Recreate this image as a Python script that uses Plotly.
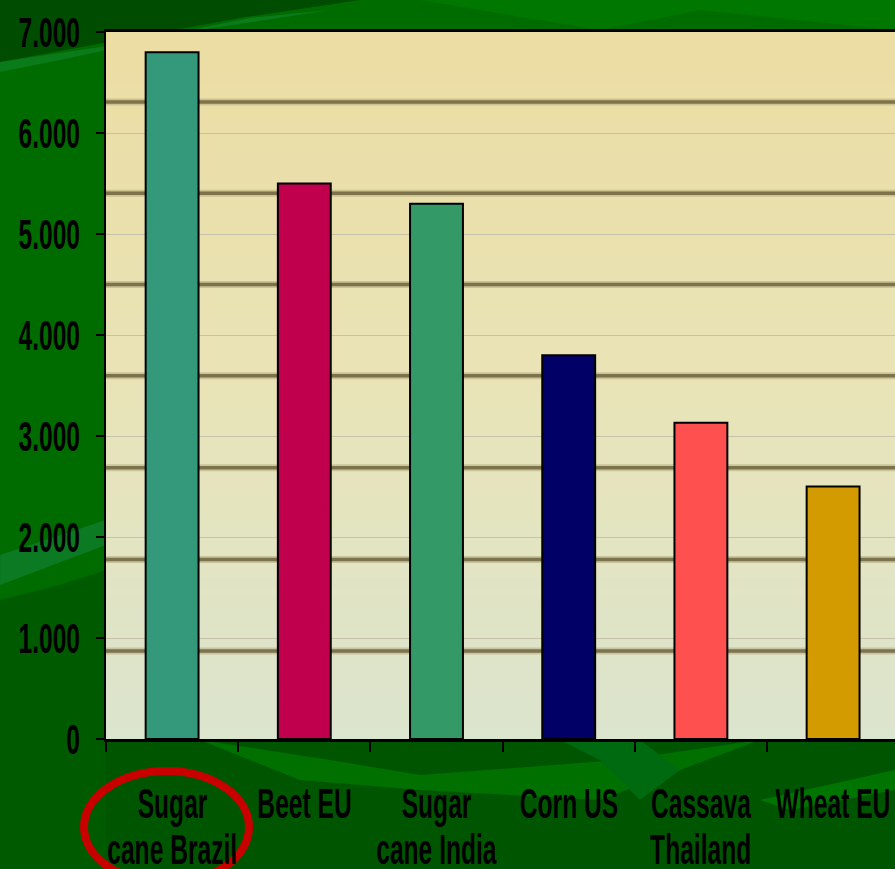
import plotly.graph_objects as go

# ---- data -------------------------------------------------------------
categories = ["Sugar cane Brazil", "Beet EU", "Sugar cane India",
              "Corn US", "Cassava Thailand", "Wheat EU"]
label_lines = [["Sugar", "cane Brazil"], ["Beet EU"], ["Sugar", "cane India"],
               ["Corn US"], ["Cassava", "Thailand"], ["Wheat EU"]]
yield_values = [6800, 5500, 5300, 3800, 3130, 2500]
bar_colors = ["#33997A", "#C0004C", "#339966", "#000066", "#FF5050", "#D49B00"]
y_tick_values = [0, 1000, 2000, 3000, 4000, 5000, 6000, 7000]

# ---- layout geometry --------------------------------------------------
W, H = 895, 869
ML, MR, MT, MB = 106, 0, 32, 130
PW, PH = W - ML - MR, H - MT - MB
CAT_PX = 132.2                      # pixel width of one category slot
x_span = PW / CAT_PX

FONT = "Liberation Sans, Arial, sans-serif"
FONT_SIZE = 30
# tall, narrow lettering: horizontal / vertical scale applied to every label
TEXT_SX, TEXT_SY = 0.82, 1.4


def px(x):
    return (x - ML) / PW


def py(y):
    return (H - MB - y) / PH


def path(points):
    return "M " + " L ".join(f"{px(a):.4f},{py(b):.4f}" for a, b in points) + " Z"


shapes = []

# green slide background swooshes
bg_patches = [
    ("#004c00", [(0, 0), (360, 0), (240, 18), (120, 40), (0, 62)]),
    ("#0a7a1a", [(0, 62), (120, 44), (250, 18), (330, 10), (200, 30), (60, 60), (0, 72)]),
    ("#007800", [(420, 0), (895, 0), (895, 30), (700, 10), (600, 30)]),
    ("#005a00", [(0, 600), (60, 585), (106, 570), (106, 869), (0, 869)]),
    ("#0b7a22", [(0, 555), (106, 520), (106, 545), (0, 585)]),
    ("#005600", [(106, 740), (895, 740), (895, 869), (106, 869)]),
    ("#007000", [(200, 740), (330, 760), (420, 775), (620, 760), (760, 740), (600, 800), (420, 790), (300, 780)]),
    ("#006a10", [(560, 740), (600, 760), (640, 800), (680, 770), (640, 740)]),
    ("#007400", [(760, 800), (895, 770), (895, 790), (790, 810)]),
]
for color, pts in bg_patches:
    shapes.append(dict(type="path", xref="paper", yref="paper", path=path(pts),
                       fillcolor=color, line=dict(width=0), layer="below"))

# beige plot-area gradient (top yellowish, bottom pale green)
top_rgb = (236, 221, 163)
mid_rgb = (233, 228, 184)
bot_rgb = (220, 229, 206)
n_bands = 70
for i in range(n_bands):
    t = i / (n_bands - 1)
    if t < 0.5:
        a, b, u = top_rgb, mid_rgb, t / 0.5
    else:
        a, b, u = mid_rgb, bot_rgb, (t - 0.5) / 0.5
    c = tuple(int(a[k] + (b[k] - a[k]) * u) for k in range(3))
    y_top = 1 - i / n_bands
    y_bot = 1 - (i + 1) / n_bands - 0.002
    shapes.append(dict(type="rect", xref="paper", yref="paper",
                       x0=0, x1=1, y0=max(y_bot, 0), y1=y_top,
                       fillcolor=f"rgb{c}", line=dict(width=0), layer="below"))

# dark horizontal stripes of the background texture
for yy in [102, 193.3, 284.5, 375.7, 467.7, 559.5, 651]:
    for w_, col in [(7, "rgba(150,140,95,0.35)"), (3.5, "rgba(110,100,62,0.85)")]:
        shapes.append(dict(type="line", xref="paper", yref="paper",
                           x0=0, x1=1, y0=py(yy), y1=py(yy),
                           line=dict(color=col, width=w_), layer="below"))

# red ellipse highlighting the first category
shapes.append(dict(type="circle", xref="paper", yref="paper",
                   x0=px(84), x1=px(249), y0=py(883), y1=py(771),
                   line=dict(color="#C80000", width=8), layer="above"))

# ---- figure -----------------------------------------------------------
fig = go.Figure(go.Bar(
    x=categories, y=yield_values,
    marker=dict(color=bar_colors, line=dict(color="black", width=2)),
    width=0.4, hoverinfo="x+y",
))

label_font = dict(family=FONT, size=FONT_SIZE, color="black", weight="bold")

annotations = []
for cat, lines in zip(categories, label_lines):
    for k, line in enumerate(lines):
        annotations.append(dict(
            x=cat, xref="x", y=0, yref="paper", yanchor="middle",
            yshift=-(64 + 46 * k), text=line, showarrow=False,
            font=label_font,
        ))

fig.update_layout(
    width=W, height=H,
    margin=dict(l=ML, r=MR, t=MT, b=MB, pad=0, autoexpand=False),
    paper_bgcolor="#006c00",
    plot_bgcolor="rgba(0,0,0,0)",
    separators=",.",
    showlegend=False,
    bargap=0.6,
    shapes=shapes,
    annotations=annotations,
    font=dict(family=FONT, color="black"),
)
fig.update_xaxes(
    type="category", range=[-0.5, -0.5 + x_span], automargin=False,
    showticklabels=False, showgrid=False,
    showline=True, linecolor="black", linewidth=3, mirror=True,
    ticks="outside", tickson="boundaries", ticklen=10, tickwidth=1.5,
    tickcolor="black", zeroline=False,
)
fig.update_yaxes(
    range=[0, 7000], tickvals=y_tick_values, tickformat=",d", automargin=False,
    showline=True, linecolor="black", linewidth=2,
    ticks="outside", ticklen=8, tickwidth=1.5, tickcolor="black",
    ticklabelstandoff=10,
    tickfont=label_font,
    showgrid=True, gridcolor="rgba(190,185,165,0.8)", gridwidth=1,
    zeroline=False,
)

# narrow the lettering horizontally and stretch it vertically, keeping each
# label anchored where plotly placed it
stretch_js = """
var gd = document.getElementById('{plot_id}');
gd.querySelectorAll('.main-svg text').forEach(function (t) {
  var b;
  try { b = t.getBBox(); } catch (e) { return; }
  if (!b || b.width === 0) { return; }
  var anchor = t.getAttribute('text-anchor') || 'start';
  var ox = anchor === 'end' ? b.x + b.width :
           anchor === 'middle' ? b.x + b.width / 2 : b.x;
  var oy = b.y + b.height / 2;
  var tr = t.getAttribute('transform') || '';
  t.setAttribute('transform', tr + ' translate(' + ox + ',' + oy + ') scale(%s,%s) translate(' + (-ox) + ',' + (-oy) + ')');
});
""" % (TEXT_SX, TEXT_SY)

fig.write_html("out.html", post_script=stretch_js)
